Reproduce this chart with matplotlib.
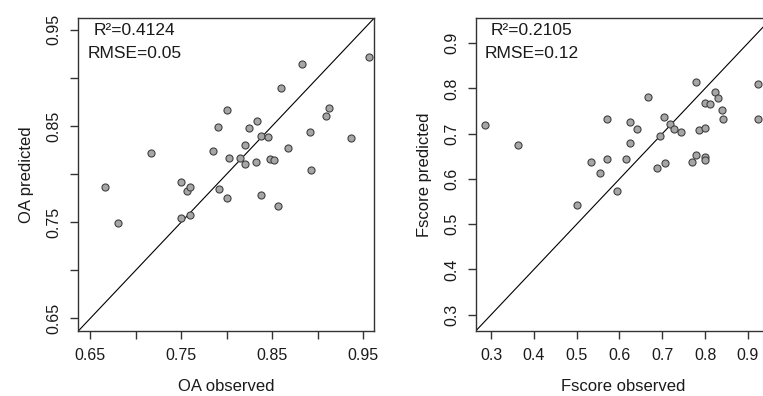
import matplotlib
matplotlib.use("Agg")
import matplotlib.pyplot as plt
import numpy as np

plt.rcParams['font.family'] = ['Liberation Sans', 'DejaVu Sans']

# OA panel
oa_obs = [0.666, 0.681, 0.717, 0.750, 0.757, 0.760, 0.750, 0.760, 0.785, 0.791,
          0.792, 0.800, 0.800, 0.803, 0.815, 0.820, 0.820, 0.825, 0.832, 0.833,
          0.838, 0.845, 0.838, 0.848, 0.852, 0.857, 0.860, 0.868, 0.883, 0.892,
          0.893, 0.909, 0.912, 0.937, 0.956]
oa_pred = [0.787, 0.749, 0.822, 0.792, 0.782, 0.787, 0.754, 0.758, 0.824, 0.849,
           0.785, 0.867, 0.775, 0.817, 0.817, 0.830, 0.811, 0.848, 0.813, 0.855,
           0.840, 0.839, 0.778, 0.816, 0.815, 0.767, 0.890, 0.827, 0.915, 0.844,
           0.804, 0.860, 0.869, 0.838, 0.922]

# Fscore panel
fs_obs = [0.285, 0.364, 0.500, 0.533, 0.555, 0.571, 0.571, 0.594, 0.615, 0.625,
          0.625, 0.640, 0.667, 0.687, 0.695, 0.704, 0.706, 0.719, 0.727, 0.744,
          0.769, 0.778, 0.778, 0.785, 0.800, 0.800, 0.800, 0.800, 0.811, 0.823,
          0.830, 0.839, 0.841, 0.923, 0.923]
fs_pred = [0.719, 0.674, 0.543, 0.638, 0.613, 0.732, 0.643, 0.573, 0.643, 0.725,
           0.679, 0.711, 0.780, 0.624, 0.694, 0.736, 0.636, 0.722, 0.711, 0.703,
           0.638, 0.814, 0.654, 0.709, 0.767, 0.712, 0.649, 0.642, 0.765, 0.792,
           0.778, 0.753, 0.732, 0.810, 0.733]

panels = [
    dict(x=oa_obs, y=oa_pred, lim=(0.637, 0.962), ticks=np.arange(0.65, 0.951, 0.05),
         labels=['0.65', '', '0.75', '', '0.85', '', '0.95'],
         xlabel='OA observed', ylabel='OA predicted',
         r2='R²=0.4124', rmse='RMSE=0.05', left=78.3),
    dict(x=fs_obs, y=fs_pred, lim=(0.264, 0.955), ticks=np.arange(0.3, 0.91, 0.1),
         labels=['0.3', '0.4', '0.5', '0.6', '0.7', '0.8', '0.9'],
         xlabel='Fscore observed', ylabel='Fscore predicted',
         r2='R²=0.2105', rmse='RMSE=0.12', left=475.7),
]

W, H = 763, 396
fig = plt.figure(figsize=(W / 100, H / 100), dpi=100)

for p in panels:
    ax = fig.add_axes([p['left'] / W, 65 / H, 295.7 / W, 312.7 / H])
    ax.plot(p['lim'], p['lim'], color='black', lw=0.8)
    ax.scatter(p['x'], p['y'], s=26, c='#a6a6a6', edgecolors='#404040',
               linewidths=0.8, zorder=3)
    ax.set_xlim(p['lim'])
    ax.set_ylim(p['lim'])
    ax.set_xticks(p['ticks'])
    ax.set_yticks(p['ticks'])
    ax.set_xticklabels(p['labels'])
    ax.set_yticklabels(p['labels'], rotation=90, va='center')
    ax.tick_params(direction='out', length=6, width=1, color='#333333',
                   labelsize=11.5, labelcolor='#1a1a1a', pad=6)
    for s in ax.spines.values():
        s.set_color('#333333')
        s.set_linewidth(1)
    ax.set_xlabel(p['xlabel'], fontsize=12, labelpad=12, color='#1a1a1a')
    ax.set_ylabel(p['ylabel'], fontsize=12, labelpad=9, color='#1a1a1a')
    lo, hi = p['lim']
    cx = lo + (hi - lo) * 0.19
    ax.text(cx, lo + (hi - lo) * 0.962, p['r2'], ha='center', va='center',
            fontsize=12.5, color='#1a1a1a')
    ax.text(cx, lo + (hi - lo) * 0.888, p['rmse'], ha='center', va='center',
            fontsize=12.5, color='#1a1a1a')

fig.savefig('out.png', dpi=100)
